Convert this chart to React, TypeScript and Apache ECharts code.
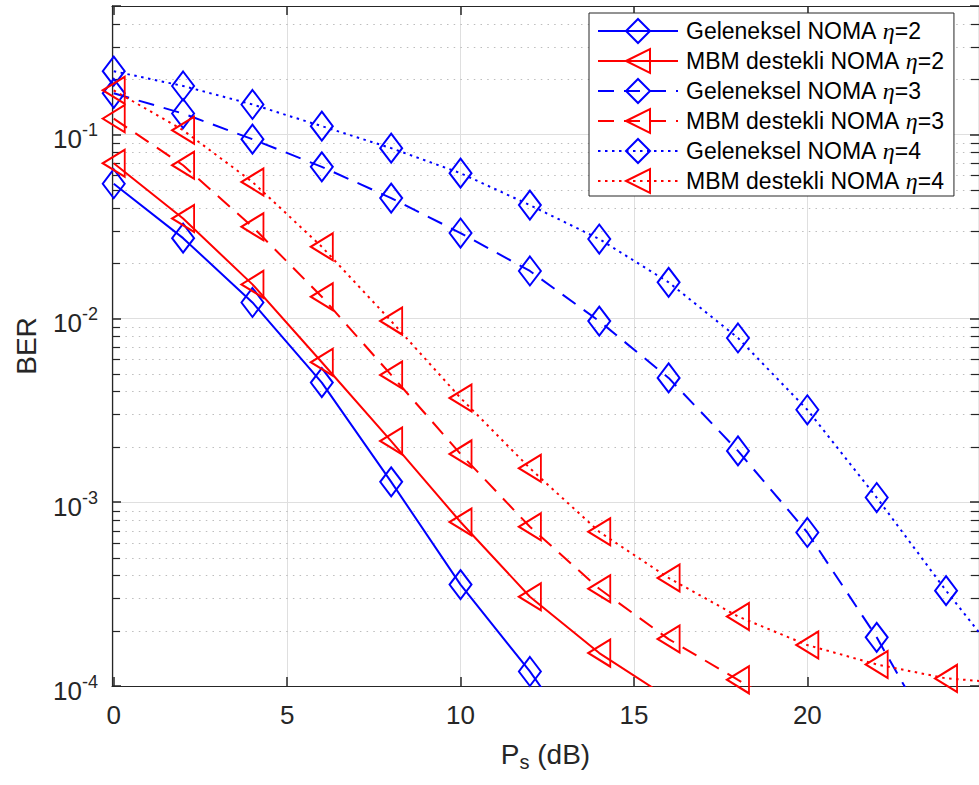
import React, { useEffect, useRef } from "react";
import * as echarts from "echarts";

const xValues = [0, 2, 4, 6, 8, 10, 12, 14, 16, 18, 20, 22, 24, 26];

const geleneksel2 = [0.054, 0.0273, 0.0122, 0.00447, 0.00129, 0.000356, 0.00012, 0.000035];
const mbm2 = [0.0698, 0.0349, 0.0153, 0.00577, 0.00215, 0.00078, 0.000306, 0.000151, 0.000086];
const geleneksel3 = [0.1675, 0.13, 0.0943, 0.0667, 0.0451, 0.0291, 0.0181, 0.00966, 0.00474, 0.0019, 0.000684, 0.000184, 0.00004];
const mbm3 = [0.122, 0.068, 0.0315, 0.0131, 0.00492, 0.00183, 0.000735, 0.000338, 0.00018, 0.000108, 0.000065];
const geleneksel4 = [0.221, 0.1836, 0.1457, 0.111, 0.0843, 0.0616, 0.0413, 0.027, 0.0157, 0.00782, 0.00318, 0.00106, 0.00033, 0.00011];
const mbm4 = [0.174, 0.1055, 0.0552, 0.0245, 0.00966, 0.00369, 0.00153, 0.00069, 0.000387, 0.000239, 0.000167, 0.000131, 0.00011, 0.000103];

const seriesNames = [
  "Geleneksel NOMA η=2",
  "MBM destekli NOMA η=2",
  "Geleneksel NOMA η=3",
  "MBM destekli NOMA η=3",
  "Geleneksel NOMA η=4",
  "MBM destekli NOMA η=4",
];

const xTicks = [0, 5, 10, 15, 20];
const yDecades = [-4, -3, -2, -1];
const minorMultipliers = [2, 3, 4, 5, 6, 7, 8, 9];

const X_MIN = -0.05;
const X_MAX = 24.95;
const Y_MIN = 1e-4;
const Y_MAX = 0.5;

const FONT = "'Liberation Sans', Arial, Helvetica, sans-serif";
const TXT = "#262626";
const BLUE = "#0000ff";
const RED = "#ff0000";
const TRI = "path://M0 50 L100 0 L100 100 Z";

function pairs(vals: number[]) {
  return vals.map((v, i) => [xValues[i], v]);
}

export default function App() {
  const ref = useRef<HTMLDivElement>(null);
  useEffect(() => {
    if (!ref.current) return;
    const chart = echarts.init(ref.current, undefined, { renderer: "svg" });

    const minorVals: number[][] = [];
    yDecades.forEach((d) => {
      minorMultipliers.forEach((m) => {
        const v = m * Math.pow(10, d);
        if (v < Y_MAX - 1e-9) minorVals.push([0, v]);
      });
    });

    const mk = (
      name: string,
      data: number[],
      color: string,
      type: any,
      diamond: boolean
    ) => ({
      name,
      type: "line",
      data: pairs(data),
      xAxisIndex: 0,
      yAxisIndex: 0,
      symbol: diamond ? "diamond" : TRI,
      symbolKeepAspect: false,
      symbolSize: diamond ? [22, 29] : [22, 27],
      showAllSymbol: true,
      clip: true,
      z: 5,
      color,
      lineStyle: { color, width: 2, type },
      itemStyle: { color: "rgba(0,0,0,0)", borderColor: color, borderWidth: 2 },
      emphasis: { disabled: true },
    });

    const dash = [16, 10];
    const dot = [2.5, 4.5];

    const option: any = {
      animation: false,
      backgroundColor: "#ffffff",
      textStyle: { fontFamily: FONT },
      grid: { left: 112, top: 6, width: 868, height: 680, containLabel: false },
      legend: {
        data: seriesNames,
        orient: "vertical",
        left: 589,
        top: 13,
        padding: [5, 10, 2, 8],
        itemGap: 4,
        itemWidth: 80,
        itemHeight: 30,
        backgroundColor: "#ffffff",
        borderColor: TXT,
        borderWidth: 1,
        selectedMode: false,
        formatter: (n: string) => n.replace("η", "{i|η}"),
        textStyle: {
          fontFamily: FONT,
          fontSize: 23,
          color: "#000000",
          padding: [0, 0, 0, 3],
          rich: {
            i: { fontFamily: "'Liberation Serif', 'DejaVu Serif', serif", fontStyle: "italic", fontSize: 24, color: "#000000" },
          },
        },
      },
      xAxis: [
        {
          type: "value",
          min: X_MIN,
          max: X_MAX,
          position: "bottom",
          name: "{a|P}{s|s}{a| (dB)}",
          nameLocation: "middle",
          nameGap: 50,
          nameTextStyle: {
            rich: {
              a: { fontFamily: FONT, fontSize: 28, color: TXT },
              s: { fontFamily: FONT, fontSize: 20, color: TXT, padding: [16, 0, 0, 0] },
            },
          },
          axisLine: { show: true, onZero: false, lineStyle: { color: TXT, width: 1.2 } },
          axisTick: { show: true, inside: true, length: 9, customValues: xTicks, lineStyle: { color: TXT, width: 1.5 } },
          axisLabel: {
            show: true,
            customValues: xTicks,
            margin: 16,
            fontFamily: FONT,
            fontSize: 26,
            color: TXT,
          },
          splitLine: { show: true, lineStyle: { color: "#dfdfdf", width: 1 } },
        },
        {
          type: "value",
          min: X_MIN,
          max: X_MAX,
          position: "top",
          axisLine: { show: true, onZero: false, lineStyle: { color: TXT, width: 1.2 } },
          axisTick: { show: true, inside: true, length: 9, customValues: xTicks, lineStyle: { color: TXT, width: 1.5 } },
          axisLabel: { show: false },
          splitLine: { show: false },
        },
      ],
      yAxis: [
        {
          type: "log",
          logBase: 10,
          min: Y_MIN,
          max: Y_MAX,
          position: "left",
          name: "BER",
          nameLocation: "middle",
          nameGap: 72,
          nameRotate: 90,
          nameTextStyle: { fontFamily: FONT, fontSize: 28, color: TXT },
          axisLine: { show: true, onZero: false, lineStyle: { color: TXT, width: 1.2 } },
          axisTick: { show: true, inside: true, length: 9, lineStyle: { color: TXT, width: 1.5 } },
          axisLabel: {
            show: true,
            margin: 14,
            formatter: (v: number) => {
              const e = Math.log10(v);
              const r = Math.round(e);
              if (Math.abs(e - r) > 1e-6) return "";
              return "{b|10}{s|" + r + "}";
            },
            rich: {
              b: { fontFamily: FONT, fontSize: 26, color: TXT, padding: [10, 0, 0, 0] },
              s: { fontFamily: FONT, fontSize: 18, color: TXT, padding: [0, 0, 8, 0] },
            },
          },
          splitLine: { show: true, lineStyle: { color: "#dfdfdf", width: 1 } },
        },
        {
          type: "log",
          logBase: 10,
          min: Y_MIN,
          max: Y_MAX,
          position: "right",
          axisLine: { show: true, onZero: false, lineStyle: { color: TXT, width: 1.2 } },
          axisTick: { show: true, inside: true, length: 9, lineStyle: { color: TXT, width: 1.5 } },
          axisLabel: { show: false },
          splitLine: { show: false },
        },
      ],
      series: [
        {
          name: "minor-grid",
          type: "custom",
          xAxisIndex: 0,
          yAxisIndex: 0,
          silent: true,
          z: 1,
          data: minorVals,
          renderItem: (params: any, api: any) => {
            const cs = params.coordSys;
            const y = Math.round(api.coord([0, api.value(1)])[1]) + 0.5;
            return {
              type: "group",
              children: [
                {
                  type: "line",
                  shape: { x1: cs.x, y1: y, x2: cs.x + cs.width, y2: y },
                  style: { stroke: "#bdbdbd", lineWidth: 1, lineDash: [1.5, 5.2] },
                },
                {
                  type: "line",
                  shape: { x1: cs.x, y1: y, x2: cs.x + 8, y2: y },
                  style: { stroke: TXT, lineWidth: 1.2 },
                },
                {
                  type: "line",
                  shape: { x1: cs.x + cs.width - 8, y1: y, x2: cs.x + cs.width, y2: y },
                  style: { stroke: TXT, lineWidth: 1.2 },
                },
              ],
            };
          },
        },
        mk(seriesNames[0], geleneksel2, BLUE, "solid", true),
        mk(seriesNames[1], mbm2, RED, "solid", false),
        mk(seriesNames[2], geleneksel3, BLUE, dash, true),
        mk(seriesNames[3], mbm3, RED, dash, false),
        mk(seriesNames[4], geleneksel4, BLUE, dot, true),
        mk(seriesNames[5], mbm4, RED, dot, false),
      ],
    };

    chart.setOption(option);
    return () => {
      chart.dispose();
    };
  }, []);

  return (
    <div
      ref={ref}
      style={{ position: "fixed", left: 0, top: 0, width: 979, height: 785, background: "#fff" }}
    />
  );
}
